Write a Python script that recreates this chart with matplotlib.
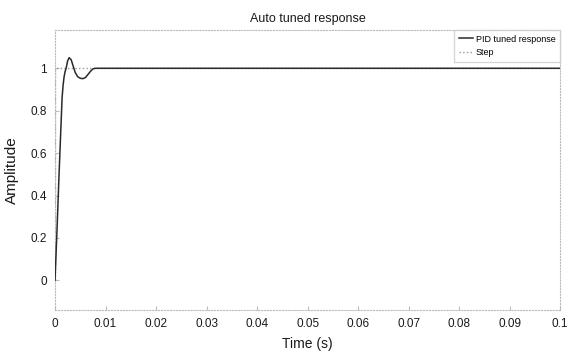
import numpy as np
import matplotlib
matplotlib.use('Agg')
import matplotlib.pyplot as plt

# PID response
t_pid = [0, 0.0002, 0.0004, 0.0006, 0.0008, 0.001, 0.0012, 0.0014, 0.0016, 0.0018,
         0.002, 0.0022, 0.0025, 0.0028, 0.0032, 0.0036, 0.004, 0.0045, 0.005,
         0.0055, 0.006, 0.0065, 0.007, 0.0075, 0.008, 0.01, 0.1]
amp_pid = [0, 0.12, 0.24, 0.37, 0.5, 0.62, 0.74, 0.86, 0.92, 0.96,
           0.985, 1.0, 1.035, 1.05, 1.04, 1.01, 0.98, 0.96, 0.953,
           0.951, 0.956, 0.97, 0.985, 0.997, 1.0, 1.0, 1.0]

# step input
t_step = [0, 0, 0.1]
amp_step = [0, 1, 1]

xticks = [0, 0.01, 0.02, 0.03, 0.04, 0.05, 0.06, 0.07, 0.08, 0.09, 0.1]
xticklabels = ['0', '0.01', '0.02', '0.03', '0.04', '0.05', '0.06', '0.07', '0.08', '0.09', '0.1']
yticks = [0, 0.2, 0.4, 0.6, 0.8, 1]
yticklabels = ['0', '0.2', '0.4', '0.6', '0.8', '1']

plt.rcParams['font.family'] = ['Liberation Sans', 'DejaVu Sans']

fig = plt.figure(figsize=(5.76, 3.54), dpi=100)
ax = fig.add_axes([0.0955, 0.124, 0.877, 0.791])

ax.plot(t_step, amp_step, color='#999999', linestyle=':', linewidth=1.0, label='Step', zorder=2)
ax.plot(t_pid, amp_pid, color='#2a2a2a', linewidth=1.1, label='PID tuned response', zorder=3)

# legend: solid first then step
h, l = ax.get_legend_handles_labels()
ax.legend(h[::-1], l[::-1], loc='upper right', fontsize=6.5, frameon=True, fancybox=False,
          edgecolor='#cccccc', handlelength=1.6, handletextpad=0.3, borderpad=0.5,
          labelspacing=0.5, borderaxespad=0.0)

ax.set_xlim(0, 0.1)
ax.set_ylim(-0.14, 1.18)
ax.set_xticks(xticks)
ax.set_xticklabels(xticklabels)
ax.set_yticks(yticks)
ax.set_yticklabels(yticklabels)
ax.tick_params(direction='in', length=3, color='#bbbbbb', labelsize=8.5, labelcolor='#1a1a1a', pad=6)

for s in ax.spines.values():
    s.set_color('#bbbbbb')
    s.set_linestyle(':')
    s.set_linewidth(0.8)

ax.set_title('Auto tuned response', fontsize=9, color='#1a1a1a', pad=6)
ax.set_xlabel('Time (s)', fontsize=10, color='#1a1a1a', labelpad=5)
ax.set_ylabel('Amplitude', fontsize=11, color='#1a1a1a', labelpad=8)

fig.savefig('out.png', dpi=100)
